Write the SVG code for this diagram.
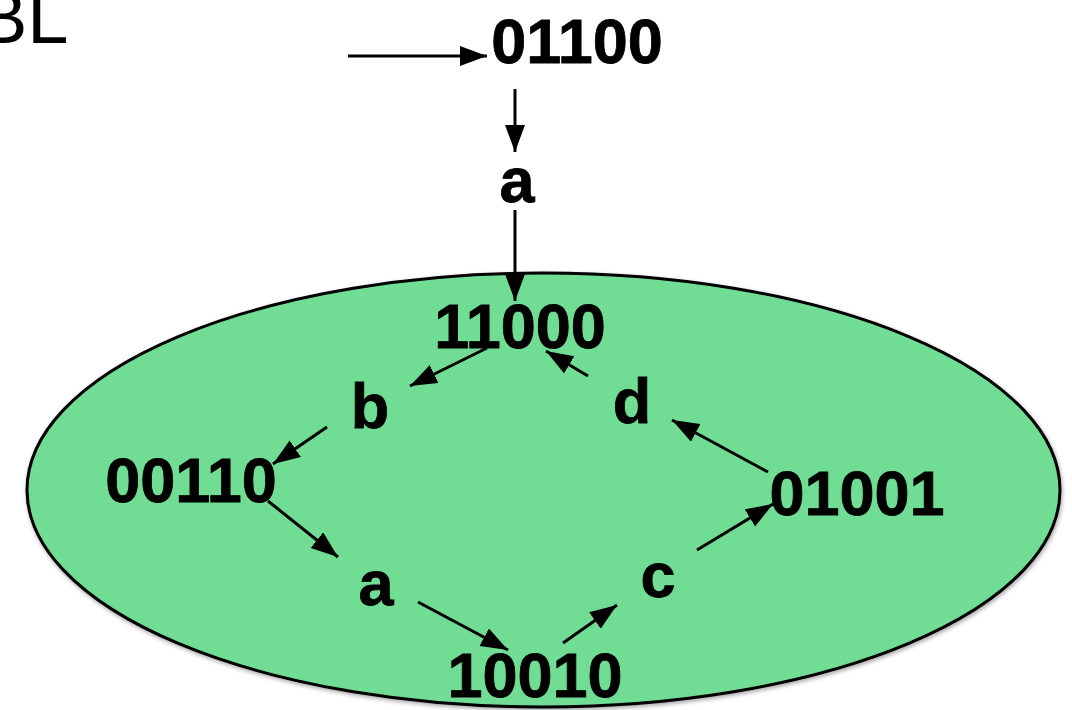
<svg xmlns="http://www.w3.org/2000/svg" width="1072" height="710" viewBox="0 0 1072 710">
<defs>
<marker id="ah" markerUnits="userSpaceOnUse" markerWidth="30" markerHeight="22" refX="27" refY="10" orient="auto">
<path d="M0,0 L27,10 L0,20 z" fill="#000"/>
</marker>
<filter id="sh" x="-5%" y="-5%" width="110%" height="115%">
<feDropShadow dx="1" dy="2" stdDeviation="2" flood-color="#000" flood-opacity="0.35"/>
</filter>
</defs>
<style>
.lbl{font-family:"Liberation Sans",Arial,sans-serif;font-weight:bold;font-size:63px;fill:#000;stroke:#000;stroke-width:0.8;text-anchor:middle}
.con line{stroke:#000;stroke-width:3;marker-end:url(#ah)}
</style>
<rect width="1072" height="710" fill="#fff"/>
<text x="-22" y="43" font-family="'Liberation Sans',Arial,sans-serif" font-size="74" fill="#000">BL</text>
<g id="set">
<ellipse cx="543.5" cy="490" rx="516.5" ry="217" fill="#6fdc94" stroke="#000" stroke-width="3" filter="url(#sh)"/>
</g>
<g class="con" id="connectors">
<line x1="348" y1="56" x2="487" y2="56"/>
<line x1="515" y1="89" x2="515" y2="152"/>
<line x1="515" y1="210" x2="515" y2="301"/>
<line x1="487" y1="348" x2="410" y2="386"/>
<line x1="588" y1="376" x2="546" y2="351"/>
<line x1="768" y1="472" x2="672" y2="420"/>
<line x1="697" y1="550" x2="773" y2="504"/>
<line x1="327" y1="427" x2="273" y2="464"/>
<line x1="268" y1="501" x2="338" y2="557"/>
<line x1="418" y1="602" x2="508" y2="650"/>
<line x1="563" y1="643" x2="617" y2="605"/>
</g>
<g id="n01100"><text class="lbl" x="577" y="63">01100</text></g>
<g id="na1"><text class="lbl" x="517" y="202">a</text></g>
<g id="n11000"><text class="lbl" x="520" y="348">11000</text></g>
<g id="nb"><text class="lbl" x="370" y="428">b</text></g>
<g id="nd"><text class="lbl" x="632" y="423">d</text></g>
<g id="n00110"><text class="lbl" x="191" y="502">00110</text></g>
<g id="n01001"><text class="lbl" x="857" y="515">01001</text></g>
<g id="na2"><text class="lbl" x="376" y="605">a</text></g>
<g id="nc"><text class="lbl" x="658" y="597">c</text></g>
<g id="n10010"><text class="lbl" x="535" y="697">10010</text></g>
</svg>
